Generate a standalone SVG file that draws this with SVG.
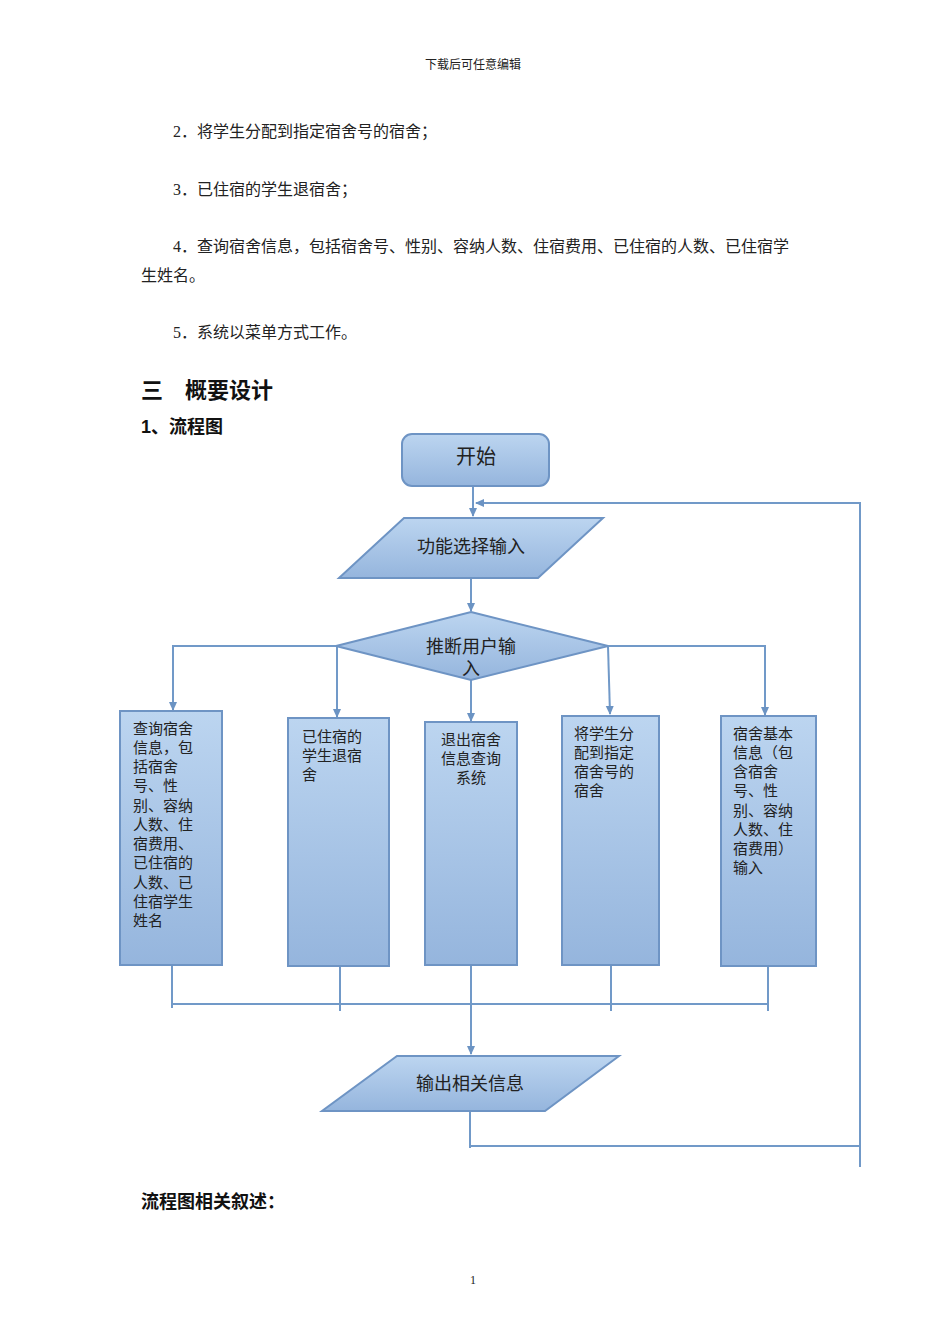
<svg xmlns="http://www.w3.org/2000/svg" width="950" height="1344" viewBox="0 0 950 1344">
<defs>
<linearGradient id="g" x1="0" y1="0" x2="0" y2="1"><stop offset="0" stop-color="#bcd5f0"/><stop offset="1" stop-color="#95b5dd"/></linearGradient>
<marker id="a" markerWidth="10" markerHeight="10" refX="8" refY="5" orient="auto" markerUnits="userSpaceOnUse"><path d="M0,1 L9,5 L0,9 Z" fill="#6b93c3"/></marker>
</defs>
<style>
.s{fill:url(#g);stroke:#6e94c4;stroke-width:2}
.c{fill:none;stroke:#7199c8;stroke-width:2}
.t{font-family:"Liberation Serif","Noto Sans CJK SC",serif;fill:#222}
.n{font-family:"Liberation Serif","Noto Sans CJK SC",serif;font-size:15px;fill:#222}
.h{font-family:"Liberation Sans","Noto Sans CJK SC",sans-serif;font-weight:bold;fill:#111}
.m{text-anchor:middle}
</style>
<rect width="950" height="1344" fill="#fff"/>
<text class="t m" x="473" y="69" font-size="12">下载后可任意编辑</text>
<text class="t" x="173" y="137" font-size="16">2．将学生分配到指定宿舍号的宿舍；</text>
<text class="t" x="173" y="195" font-size="16">3．已住宿的学生退宿舍；</text>
<text class="t" x="173" y="252" font-size="16">4．查询宿舍信息，包括宿舍号、性别、容纳人数、住宿费用、已住宿的人数、已住宿学</text>
<text class="t" x="141" y="281" font-size="16">生姓名。</text>
<text class="t" x="173" y="338" font-size="16">5．系统以菜单方式工作。</text>
<text class="h" x="141" y="398" font-size="22">三　概要设计</text>
<text class="h" x="141" y="433" font-size="18">1、流程图</text>
<text class="h" x="141" y="1208" font-size="18">流程图相关叙述：</text>
<text class="t m" x="473" y="1284" font-size="12">1</text>
<g id="connectors">
<path class="c" d="M473,486 V516" marker-end="url(#a)"/>
<path class="c" d="M860,1167 V503 H476" marker-end="url(#a)"/>
<path class="c" d="M471,578 V611" marker-end="url(#a)"/>
<path class="c" d="M336,646 H173 V710" marker-end="url(#a)"/>
<path class="c" d="M337,646 V717" marker-end="url(#a)"/>
<path class="c" d="M471,680 V721" marker-end="url(#a)"/>
<path class="c" d="M608,646 L610,714" marker-end="url(#a)"/>
<path class="c" d="M608,646 H765 V715" marker-end="url(#a)"/>
<path class="c" d="M172,962 V1008 M340,962 V1011 M611,962 V1011 M768,962 V1011 M172,1004 H768"/>
<path class="c" d="M471,962 V1054" marker-end="url(#a)"/>
<path class="c" d="M470,1108 V1148 M470,1146 H860"/>
</g>
<g id="start"><rect class="s" x="402" y="434" width="147" height="52" rx="10"/><text class="t m" x="476" y="464" font-size="20">开始</text></g>
<g id="input"><polygon class="s" points="404,518 603,518 538,578 339,578"/><text class="t m" x="471" y="553" font-size="18">功能选择输入</text></g>
<g id="decide"><polygon class="s" points="471,612 608,646 471,680 336,646"/><text class="t m" x="471" y="653" font-size="18">推断用户输</text><text class="t m" x="471" y="675" font-size="18">入</text></g>
<g id="query"><rect class="s" x="120" y="711" width="102" height="254"/>
<text class="n" x="133"><tspan x="133" y="734">查询宿舍</tspan><tspan x="133" y="753">信息，包</tspan><tspan x="133" y="772">括宿舍</tspan><tspan x="133" y="791">号、性</tspan><tspan x="133" y="811">别、容纳</tspan><tspan x="133" y="830">人数、住</tspan><tspan x="133" y="849">宿费用、</tspan><tspan x="133" y="868">已住宿的</tspan><tspan x="133" y="888">人数、已</tspan><tspan x="133" y="907">住宿学生</tspan><tspan x="133" y="926">姓名</tspan></text></g>
<g id="checkout"><rect class="s" x="288" y="718" width="101" height="248"/>
<text class="n"><tspan x="302" y="742">已住宿的</tspan><tspan x="302" y="761">学生退宿</tspan><tspan x="302" y="780">舍</tspan></text></g>
<g id="exit"><rect class="s" x="425" y="722" width="92" height="243"/>
<text class="n m"><tspan x="471" y="745">退出宿舍</tspan><tspan x="471" y="764">信息查询</tspan><tspan x="471" y="783">系统</tspan></text></g>
<g id="assign"><rect class="s" x="562" y="716" width="97" height="249"/>
<text class="n"><tspan x="574" y="739">将学生分</tspan><tspan x="574" y="758">配到指定</tspan><tspan x="574" y="777">宿舍号的</tspan><tspan x="574" y="796">宿舍</tspan></text></g>
<g id="basic"><rect class="s" x="721" y="716" width="95" height="250"/>
<text class="n"><tspan x="733" y="739">宿舍基本</tspan><tspan x="733" y="758">信息（包</tspan><tspan x="733" y="777">含宿舍</tspan><tspan x="733" y="796">号、性</tspan><tspan x="733" y="816">别、容纳</tspan><tspan x="733" y="835">人数、住</tspan><tspan x="733" y="854">宿费用）</tspan><tspan x="733" y="873">输入</tspan></text></g>
<g id="output"><polygon class="s" points="397,1056 619,1056 545,1111 322,1111"/><text class="t m" x="470" y="1090" font-size="18">输出相关信息</text></g>
</svg>
